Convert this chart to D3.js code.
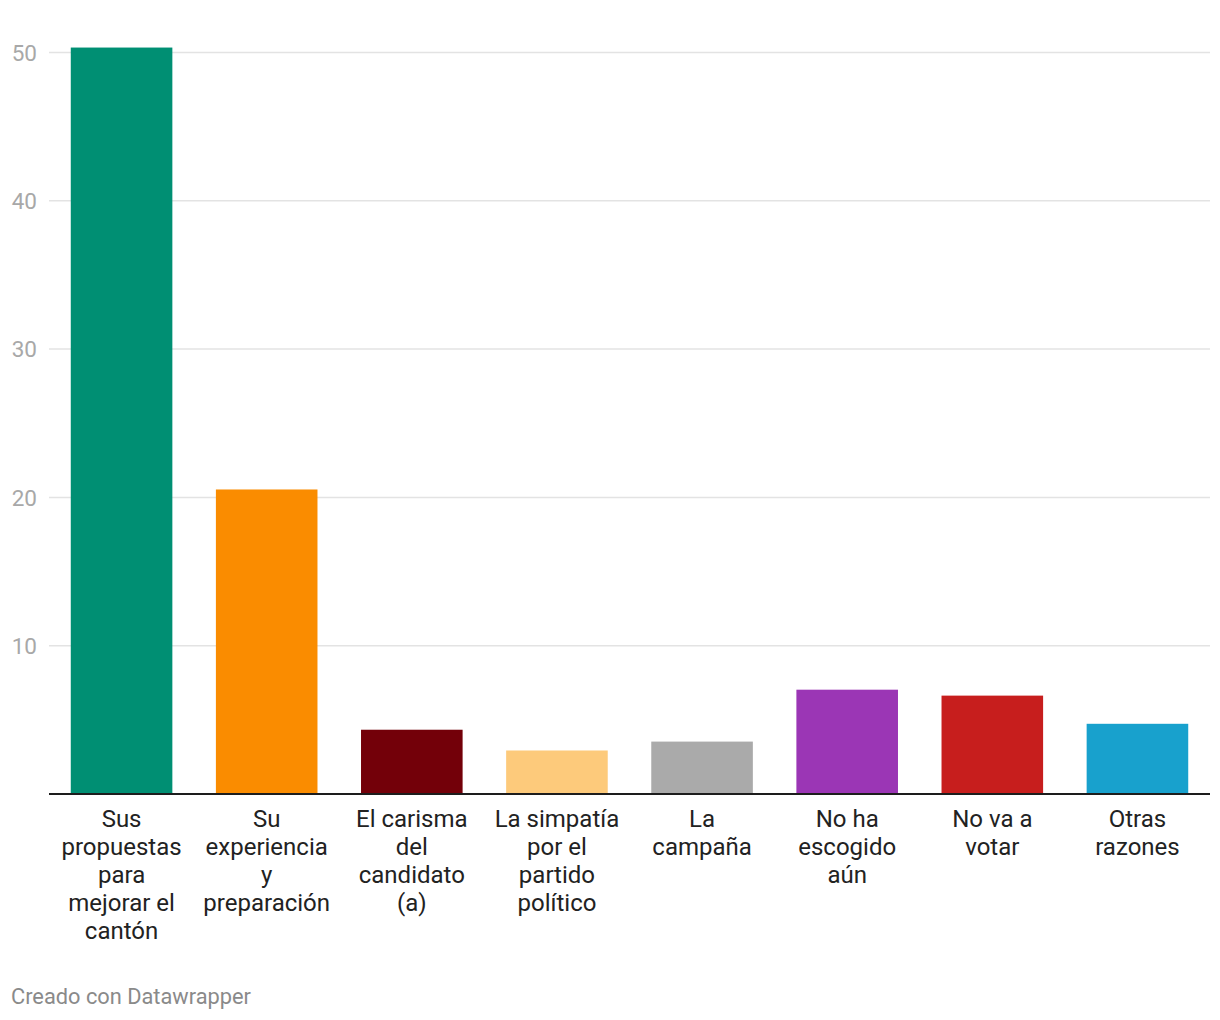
<!DOCTYPE html>
<html>
<head>
<meta charset="utf-8">
<script src="https://cdn.jsdelivr.net/npm/d3@7"></script>
<style>
  html, body { margin: 0; padding: 0; background: #fff; }
  svg { display: block; font-family: Roboto, "Noto Sans", sans-serif; }
</style>
</head>
<body>
<svg id="chart" width="1220" height="1020"></svg>
<script>
const categories = [
  "Sus propuestas para mejorar el cantón",
  "Su experiencia y preparación",
  "El carisma del candidato (a)",
  "La simpatía por el partido político",
  "La campaña",
  "No ha escogido aún",
  "No va a votar",
  "Otras razones"
];
const values = [50.3, 20.5, 4.3, 2.9, 3.5, 7.0, 6.6, 4.7];
const colors = ["#008f73", "#fa8c00", "#730009", "#fdca7b", "#aaaaaa", "#9b36b5", "#c71e1d", "#18a1cd"];
const yTicks = [10, 20, 30, 40, 50];
const footer = "Creado con Datawrapper";

const svg = d3.select("#chart");
const mLeft = 49, mRight = 1210, mTop = 52, mBottom = 793.5;

const x = d3.scaleBand().domain(categories).range([mLeft, mRight]).paddingInner(0.3).paddingOuter(0.15);
const y = d3.scaleLinear().domain([0, 50]).range([mBottom, mTop]);

// gridlines
const yAxis = d3.axisLeft(y).tickValues(yTicks).tickSize(-(mRight - mLeft)).tickFormat(d3.format("d"));
const gy = svg.append("g").attr("transform", `translate(${mLeft},0)`).call(yAxis);
gy.select(".domain").remove();
gy.selectAll(".tick line").attr("stroke", "#e3e3e3").attr("stroke-width", 1.5);
gy.selectAll(".tick text")
  .attr("x", -12).attr("dy", "0.36em")
  .attr("fill", "#a8a8a8").style("font-size", "22.5px").style("font-family", "Roboto");

// bars
svg.append("g").selectAll("rect").data(values).join("rect")
  .attr("x", (d, i) => x(categories[i]))
  .attr("width", x.bandwidth())
  .attr("y", d => y(d))
  .attr("height", d => y(0) - y(d))
  .attr("fill", (d, i) => colors[i]);

// baseline axis
const xAxis = d3.axisBottom(x).tickSize(0).tickPadding(0);
const gx = svg.append("g").attr("transform", `translate(0,${y(0)})`).call(xAxis);
gx.select(".domain").attr("stroke", "#1d1d1d").attr("stroke-width", 2).attr("d", `M${mLeft},0.5H${mRight}`);
gx.selectAll(".tick text").remove();

// category labels with wrapping
const maxW = 127;
const lineH = 28;
gx.selectAll(".tick").each(function(cat) {
  const g = d3.select(this);
  const t = g.append("text")
    .attr("text-anchor", "middle")
    .attr("fill", "#222")
    .style("font-size", "24px")
    .style("font-family", "Roboto");
  const words = cat.split(" ");
  let lines = [], cur = [];
  const probe = t.append("tspan");
  words.forEach(w => {
    const test = cur.concat(w).join(" ");
    probe.text(test);
    if (cur.length && probe.node().getComputedTextLength() > maxW) {
      lines.push(cur.join(" "));
      cur = [w];
    } else cur.push(w);
  });
  lines.push(cur.join(" "));
  probe.remove();
  lines.forEach((ln, i) => {
    t.append("tspan").attr("x", 0).attr("y", 33 + i * lineH).text(ln);
  });
});

// footer
svg.append("text").attr("x", 11).attr("y", 1004)
  .attr("fill", "#8a8a8a").style("font-size", "21.8px").style("font-family", "Roboto")
  .text(footer);
</script>
</body>
</html>
